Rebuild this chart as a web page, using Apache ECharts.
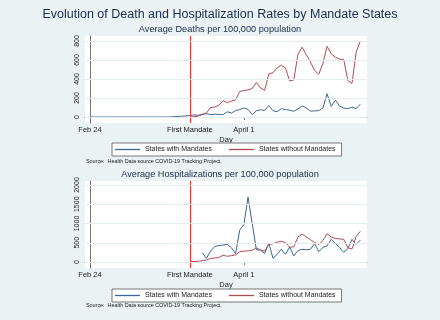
<!DOCTYPE html>
<html>
<head>
<meta charset="utf-8">
<script src="https://cdn.jsdelivr.net/npm/echarts@6/dist/echarts.min.js"></script>
<style>
  html, body { margin: 0; padding: 0; background: #eaf2f3; }
  #chart { width: 440px; height: 320px; }
</style>
</head>
<body>
<div id="chart"></div>
<script>
// x: days since Feb 24
var tickDays = [0, 24, 37];
var tickLabels = ['Feb 24', 'First Mandate', 'April 1'];
var mandateDay = 24;
var seriesNames = ['States with Mandates', 'States without Mandates'];

// deaths per 100,000, one value per day from Feb 24
var deathsWith = [0, 0, 0, 0, 0, 0, 0, 0, 0, 0, 0, 0, 0, 0, 0, 0, 0, 0, 0, 0,
  3, 5, 8, 12, 15, 22, 18, 30, 35, 25, 30, 28, 25, 55, 42, 68, 78, 95, 80, 25,
  65, 75, 70, 122, 66, 56, 88, 78, 72, 60, 85, 118, 95, 62, 64, 68, 95, 245, 112, 178,
  115, 95, 88, 105, 88, 135];
var deathsWithout = [null, null, null, null, null, null, null, null, null, null, null, null, null, null, null, null, null, null, null, null,
  null, null, null, null, 0, 2, 10, 25, 42, 100, 105, 125, 172, 150, 168, 180, 268, 280, 285, 300,
  365, 305, 282, 455, 465, 520, 545, 515, 380, 390, 660, 735, 655, 580, 490, 450, 565, 745, 665, 630,
  610, 605, 385, 355, 685, 800];

// hospitalizations per 100,000
var hospWith = [null, null, null, null, null, null, null, null, null, null, null, null, null, null, null, null, null, null, null, null,
  null, null, null, null, null, null, null, 240, 95, 285, 400, 430, 440, 460, 370, 216, 830, 970, 1690, 1000,
  320, 310, 220, 500, 95, 200, 330, 200, 390, 160, 300, 330, 320, 330, 480, 270, 380, 420, 590, 480,
  380, 250, 350, 590, 460, 570];
var hospWithout = [null, null, null, null, null, null, null, null, null, null, null, null, null, null, null, null, null, null, null, null,
  null, null, null, null, 10, 12, 20, 35, 52, 95, 104, 120, 175, 150, 165, 185, 270, 285, 290, 305,
  370, 310, 285, 455, 475, 515, 540, 505, 385, 395, 650, 725, 650, 580, 510, 455, 560, 735, 645, 615,
  600, 590, 370, 340, 665, 800];

var deathTicks = [0, 200, 400, 600, 800];
var hospTicks = [0, 500, 1000, 1500, 2000];

var FONT = 'Liberation Sans, Arial, sans-serif';
var colWith = '#3b6791';
var colWithout = '#b24c54';

function pairs(arr) {
    var out = [];
    for (var i = 0; i < arr.length; i++) {
        out.push([i, arr[i]]);
    }
    return out;
}

function xAxisFor(gridIndex) {
    return {
        type: 'value',
        gridIndex: gridIndex,
        min: -1.2,
        max: 66.6,
        name: 'Day',
        nameLocation: 'middle',
        nameGap: 13,
        nameTextStyle: { fontFamily: FONT, fontSize: 7.5, color: '#222' },
        axisLine: { show: true, lineStyle: { color: '#777', width: 1 } },
        axisTick: { show: true, length: 3, customValues: tickDays, lineStyle: { color: '#777' } },
        axisLabel: {
            customValues: tickDays,
            margin: 3,
            fontFamily: FONT,
            fontSize: 7.5,
            color: '#222',
            formatter: function (v) {
                var k = tickDays.indexOf(v);
                return k >= 0 ? tickLabels[k] : '';
            }
        },
        splitLine: { show: false }
    };
}

function yAxisFor(gridIndex, min, max, ticks) {
    return {
        type: 'value',
        gridIndex: gridIndex,
        min: min,
        max: max,
        axisLine: { show: true, lineStyle: { color: '#777', width: 1 } },
        axisTick: { show: true, length: 3, customValues: ticks, lineStyle: { color: '#777' } },
        axisLabel: {
            customValues: ticks,
            rotate: 90,
            margin: 4,
            fontFamily: FONT,
            fontSize: 7,
            color: '#222',
            formatter: function (v) { return String(v); }
        },
        splitLine: { show: false }
    };
}

// mandate marker plus light horizontal grid lines at the tick values
function markLines(ticks) {
    var data = [{ xAxis: mandateDay, lineStyle: { color: '#ff2b2b', width: 1, type: 'solid' } }];
    for (var i = 0; i < ticks.length; i++) {
        data.push({ yAxis: ticks[i], lineStyle: { color: '#e3ecee', width: 1, type: 'solid' } });
    }
    return {
        silent: true,
        symbol: ['none', 'none'],
        label: { show: false },
        data: data
    };
}

function lineSeries(name, arr, idx, color, z) {
    return {
        name: name,
        type: 'line',
        xAxisIndex: idx,
        yAxisIndex: idx,
        data: pairs(arr),
        symbol: 'none',
        showSymbol: false,
        connectNulls: false,
        z: z,
        lineStyle: { color: color, width: 1 },
        itemStyle: { color: color }
    };
}

function legendFor(top) {
    return {
        left: 112,
        top: top,
        data: [
            { name: seriesNames[0], icon: 'rect', itemStyle: { color: colWith, borderWidth: 0 } },
            { name: seriesNames[1], icon: 'rect', itemStyle: { color: colWithout, borderWidth: 0 } }
        ],
        backgroundColor: '#fff',
        borderColor: '#777',
        borderWidth: 1,
        borderRadius: 0,
        padding: [3, 6, 3, 3],
        itemGap: 17,
        itemWidth: 25,
        itemHeight: 1.3,
        textStyle: { fontFamily: FONT, fontSize: 7, color: '#222' }
    };
}

var chart = echarts.init(document.getElementById('chart'));

var gridHolder0 = lineSeries('', [], 0, '#fff', 1);
gridHolder0.markLine = markLines(deathTicks);
var gridHolder1 = lineSeries('', [], 1, '#fff', 1);
gridHolder1.markLine = markLines(hospTicks);

var option = {
    animation: false,
    backgroundColor: '#eaf2f3',
    title: [
        {
            text: 'Evolution of Death and Hospitalization Rates by Mandate States',
            left: 'center', top: 8.5, padding: 0,
            textStyle: { fontFamily: FONT, fontSize: 12.5, fontWeight: 'normal', color: '#1c2b4c' }
        },
        {
            text: 'Average Deaths per 100,000 population',
            left: 'center', top: 25, padding: 0,
            textStyle: { fontFamily: FONT, fontSize: 9.2, fontWeight: 'normal', color: '#1c2b4c' }
        },
        {
            text: 'Average Hospitalizations per 100,000 population',
            left: 'center', top: 169.5, padding: 0,
            textStyle: { fontFamily: FONT, fontSize: 9.2, fontWeight: 'normal', color: '#1c2b4c' }
        },
        {
            text: 'Source:  Health Data source COVID-19 Tracking Project.',
            left: 86, top: 159.5, padding: 0,
            textStyle: { fontFamily: FONT, fontSize: 5.4, fontWeight: 'normal', color: '#222' }
        },
        {
            text: 'Source:  Health Data source COVID-19 Tracking Project.',
            left: 86, top: 303.5, padding: 0,
            textStyle: { fontFamily: FONT, fontSize: 5.4, fontWeight: 'normal', color: '#222' }
        }
    ],
    legend: [legendFor(143), legendFor(289)],
    grid: [
        { left: 85, right: 73, top: 36, height: 87, show: true, backgroundColor: '#fff', borderWidth: 0 },
        { left: 85, right: 73, top: 181, height: 87, show: true, backgroundColor: '#fff', borderWidth: 0 }
    ],
    xAxis: [xAxisFor(0), xAxisFor(1)],
    yAxis: [yAxisFor(0, -63, 853, deathTicks), yAxisFor(1, -155, 2104, hospTicks)],
    series: [
        gridHolder0,
        gridHolder1,
        lineSeries(seriesNames[0], deathsWith, 0, colWith, 3),
        lineSeries(seriesNames[1], deathsWithout, 0, colWithout, 4),
        lineSeries(seriesNames[0], hospWith, 1, colWith, 3),
        lineSeries(seriesNames[1], hospWithout, 1, colWithout, 4)
    ]
};

chart.setOption(option);
</script>
</body>
</html>
